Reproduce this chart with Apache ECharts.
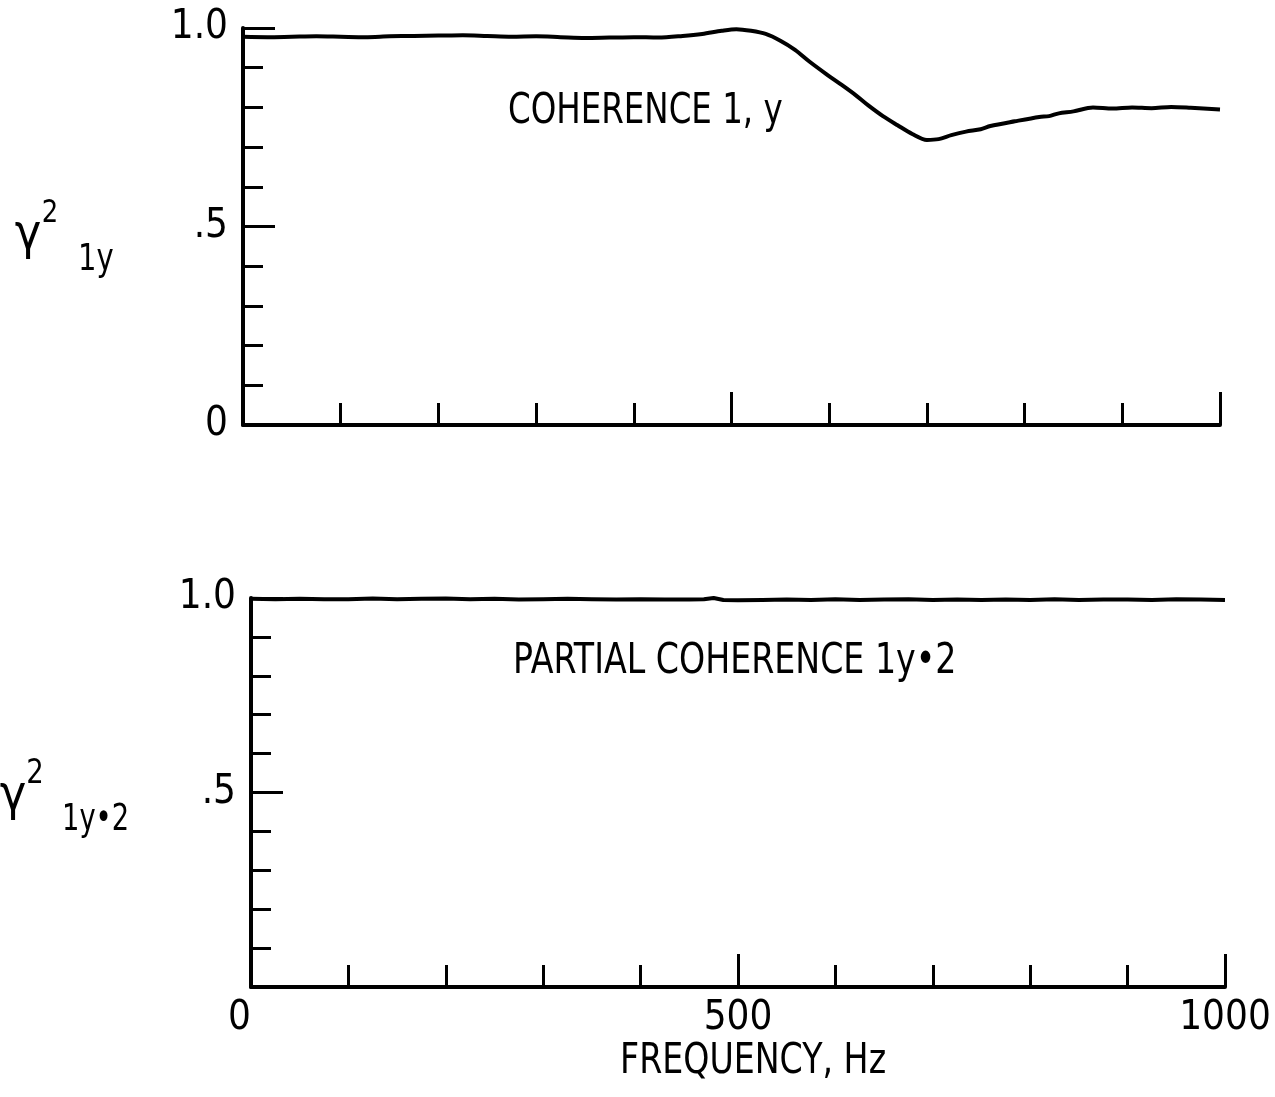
<!DOCTYPE html>
<html>
<head>
<meta charset="utf-8">
<script src="https://cdn.jsdelivr.net/npm/echarts@6/dist/echarts.min.js"></script>
<style>
html,body{margin:0;padding:0;background:#fff;}
#chart{width:1275px;height:1097px;}
</style>
</head>
<body>
<div id="chart"></div>
<script>
// ---- Data ----
const topFreq = [0,25,50,75,100,125,150,175,200,225,250,275,300,325,350,375,400,425,450,470,490,505,520,535,550,565,580,597,612,627,640,655,670,685,700,712,725,740,755,765,790,815,825,835,850,870,890,910,930,950,970,1000];
const topCoherence = [0.978,0.977,0.978,0.979,0.978,0.977,0.979,0.980,0.981,0.982,0.980,0.978,0.979,0.977,0.975,0.976,0.977,0.976,0.980,0.985,0.993,0.997,0.993,0.985,0.968,0.945,0.915,0.884,0.858,0.831,0.805,0.778,0.755,0.733,0.718,0.720,0.730,0.739,0.745,0.753,0.765,0.776,0.778,0.785,0.790,0.800,0.797,0.800,0.798,0.801,0.799,0.795];

const botFreq = [0,25,50,75,100,125,150,175,200,225,250,275,300,325,350,375,400,425,450,465,475,485,500,525,550,575,600,625,650,675,700,725,750,775,800,825,850,875,900,925,950,975,1000];
const botPartial = [0.998,0.997,0.998,0.997,0.997,0.999,0.997,0.998,0.999,0.997,0.998,0.996,0.997,0.998,0.997,0.996,0.997,0.996,0.996,0.997,1.000,0.995,0.994,0.995,0.996,0.995,0.997,0.995,0.996,0.997,0.995,0.996,0.995,0.996,0.995,0.997,0.995,0.996,0.996,0.995,0.997,0.996,0.995];

const xTicks = {min:0, max:1000, major:500, minorSplit:5};
const yTicks = {min:0, max:1, major:0.5, minorSplit:5};

const topLabel = 'COHERENCE 1, y';
const botLabel = 'PARTIAL COHERENCE 1y\u20222';
const xName = 'FREQUENCY, Hz';

const FONT = '"DejaVu Sans Condensed","Liberation Sans Narrow","Liberation Sans",sans-serif';

function pairs(xs, ys){ return xs.map((x,i)=>[x, ys[i]]); }

function yFmt(v){ if (v===1) return '1.0'; if (v===0.5) return '.5'; if (v===0) return '0'; return ''; }

const axisLineStyle = {show:true, onZero:false, lineStyle:{color:'#000', width:4}};

function makeX(idx, showLabels){
  return {
    type:'value', gridIndex:idx, min:xTicks.min, max:xTicks.max, interval:xTicks.major,
    axisLine:axisLineStyle,
    axisTick:{show:true, inside:true, length:33, lineStyle:{color:'#000', width:3}},
    minorTick:{show:true, splitNumber:xTicks.minorSplit, length:22, lineStyle:{color:'#000', width:3}},
    splitLine:{show:false}, minorSplitLine:{show:false},
    axisLabel:{show:showLabels, color:'#000', fontFamily:FONT, fontSize:40, margin:12, alignMinLabel:'right',
      formatter: v => String(v)}
  };
}
function makeY(idx, showZero){
  return {
    type:'value', gridIndex:idx, min:yTicks.min, max:yTicks.max, interval:yTicks.major,
    axisLine:axisLineStyle,
    axisTick:{show:true, inside:true, length:32, lineStyle:{color:'#000', width:3}},
    minorTick:{show:true, splitNumber:yTicks.minorSplit, length:20, lineStyle:{color:'#000', width:3}},
    splitLine:{show:false}, minorSplitLine:{show:false},
    axisLabel:{show:true, color:'#000', fontFamily:FONT, fontSize:40, margin:15,
      formatter: v => (v===0 && !showZero) ? '' : yFmt(v)}
  };
}

function txt(x, y, s, size, align, sx){
  return {type:'text', x:x, y:y, scaleX:sx||1, style:{text:s, font:size+'px '+FONT, fill:'#000', textAlign:align, textVerticalAlign:'middle'}};
}

const chart = echarts.init(document.getElementById('chart'), null, {renderer:'canvas'});
chart.setOption({
  backgroundColor:'#fff',
  animation:false,
  grid:[
    {left:243, right:55, top:28, height:397},
    {left:251, right:50, top:598, height:389}
  ],
  xAxis:[makeX(0,false), makeX(1,true)],
  yAxis:[makeY(0,true), makeY(1,false)],
  series:[
    {type:'line', xAxisIndex:0, yAxisIndex:0, data:pairs(topFreq, topCoherence), showSymbol:false, smooth:0.3,
     lineStyle:{color:'#000', width:4}, clip:false},
    {type:'line', xAxisIndex:1, yAxisIndex:1, data:pairs(botFreq, botPartial), showSymbol:false,
     lineStyle:{color:'#000', width:4}, clip:false}
  ],
  graphic:[
    txt(508, 112, topLabel, 42, 'left', 0.86),
    txt(513, 662, botLabel, 42, 'left', 0.88),
    txt(620, 1062, xName, 42, 'left', 0.88),
    txt(28, 236, '\u03b3', 50, 'center', 1),
    txt(50, 214, '2', 32, 'center', 0.9),
    txt(78, 260, '1y', 38, 'left', 0.85),
    txt(13, 797, '\u03b3', 50, 'center', 1),
    txt(35, 774, '2', 34, 'center', 0.9),
    txt(62, 820, '1y\u20222', 38, 'left', 0.8)
  ]
});
</script>
</body>
</html>
